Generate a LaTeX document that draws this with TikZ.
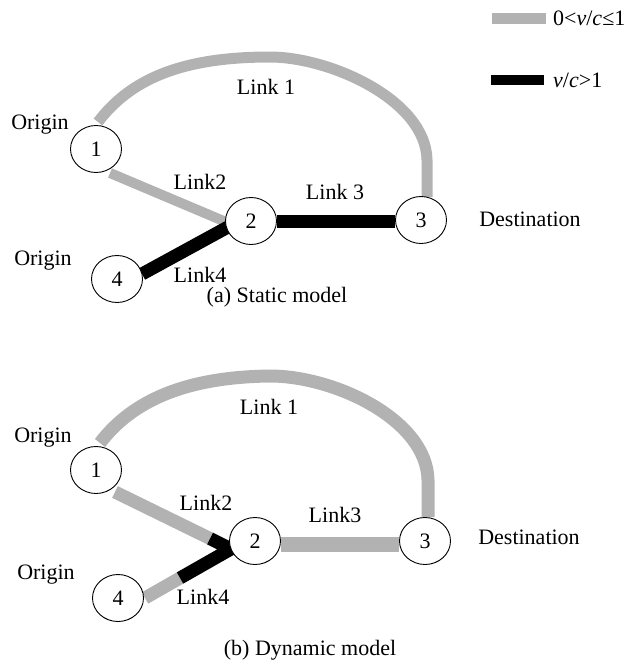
\documentclass[tikz,border=0pt]{standalone}
\usepackage{fontspec}
\setmainfont{Liberation Serif}
\usetikzlibrary{shapes.geometric,backgrounds,calc}
\definecolor{lgray}{RGB}{178,178,178}
\begin{document}
\begin{tikzpicture}[x=1pt,y=-1pt,
  lbl/.style={font=\fontsize{22}{26}\selectfont, inner sep=0pt},
  nd/.style={ellipse, draw=black, line width=0.9pt, fill=white, minimum width=51pt, minimum height=47pt, inner sep=0pt, font=\fontsize{22}{26}\selectfont},
  lowlink/.style={draw=lgray, line width=11pt},
  highlink/.style={draw=black, line width=13pt},
]
\useasboundingbox (0,0) rectangle (638,661);
% legend
\fill[lgray] (492,13) rectangle (546,24);
\node[lbl, anchor=west] (leg1) at (553,18) {0<{\itshape v}/{\itshape c}≤1};
\fill[black] (491,75) rectangle (544,85);
\node[lbl, anchor=west] (leg2) at (553,80) {{\itshape v}/{\itshape c}>1};

% ---------- (a) static ----------
\node[nd] (a1) at (96,149) {1};
\node[nd] (a2) at (251,221) {2};
\node[nd] (a3) at (421,220) {3};
\node[nd] (a4) at (117,279) {4};
\coordinate (a1s) at (98,122);
\coordinate (a3s) at (427,197);
\coordinate (a12s) at (110,173);
\coordinate (a12e) at (226,222);
\coordinate (a42s) at (142,274);
\coordinate (a42e) at (228,227);
\begin{scope}[on background layer]
\draw[lowlink] (a1s) .. controls (130,80) and (180,57) .. (270,57) .. controls (330,57) and (426,100) .. (427,160) -- (a3s);
\draw[lowlink, line width=10pt] (a12s) -- (a12e);
\draw[highlink] (a42s) -- (a42e);
\draw[highlink] (a2.east) -- (a2.east -| a3.west);
\end{scope}
\node[lbl] (ao1) at (40,125) {Origin};
\node[lbl] (ao4) at (43,261) {Origin};
\node[lbl] (adest) at (530,219) {Destination};
\node[lbl] (al1) at (266,87) {Link 1};
\node[lbl] (al2) at (200,182) {Link2};
\node[lbl] (al3) at (335,192) {Link 3};
\node[lbl] (al4) at (200,275) {Link4};
\node[lbl] (acap) at (277,297) {(a) Static model};

% ---------- (b) dynamic ----------
\node[nd] (b1) at (96,470) {1};
\node[nd] (b2) at (255,541) {2};
\node[nd] (b3) at (425,541) {3};
\node[nd] (b4) at (118,598) {4};
\coordinate (b1s) at (100,443);
\coordinate (b3s) at (428,517);
\coordinate (b12s) at (115,492);
\coordinate (b12m) at (210,538.5);
\coordinate (b2t) at (231,549);
\coordinate (b42m) at (180,578);
\coordinate (b42s) at (145,598);
\begin{scope}[on background layer]
\draw[lowlink, line width=13pt] (b1s) .. controls (132,401) and (185,377) .. (270,376) .. controls (335,376) and (427,420) .. (428,480) -- (b3s);
\draw[lowlink, line width=13pt] (b12s) -- (b12m);
\draw[lowlink, line width=13pt] (b42s) -- (b42m);
\draw[highlink, line join=miter] (b12m) -- (b2t) -- (b42m);
\draw[lowlink, line width=15pt] ($(b2.east)+(0,3)$) -- ($(b2.east -| b3.west)+(0,3)$);
\end{scope}
\node[lbl] (bo1) at (43,438) {Origin};
\node[lbl] (bo4) at (46,575) {Origin};
\node[lbl] (bdest) at (529,537) {Destination};
\node[lbl] (bl1) at (269,407) {Link 1};
\node[lbl] (bl2) at (206,503) {Link2};
\node[lbl] (bl3) at (335,515) {Link3};
\node[lbl] (bl4) at (203,597) {Link4};
\node[lbl] (bcap) at (310,650) {(b) Dynamic model};
\end{tikzpicture}
\end{document}
